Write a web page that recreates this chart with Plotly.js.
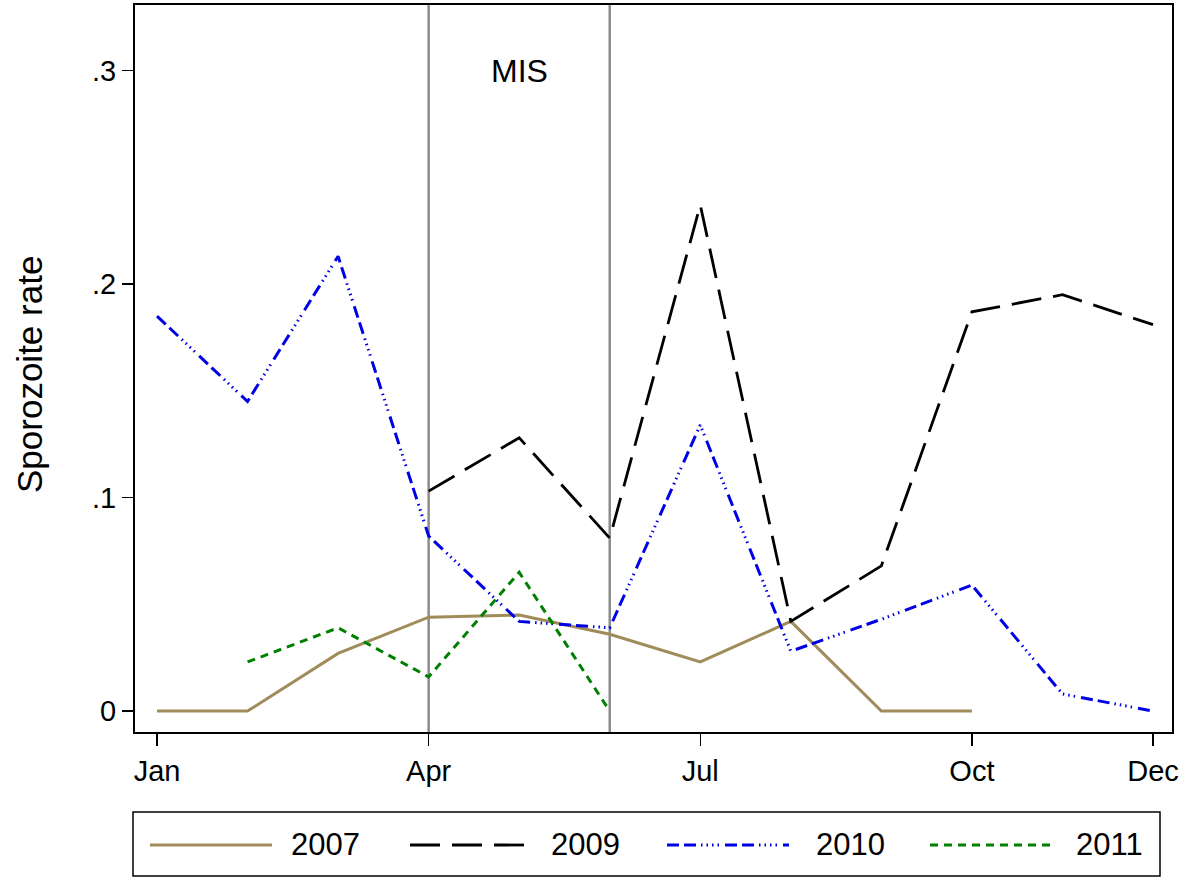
<!DOCTYPE html>
<html>
<head>
<meta charset="utf-8">
<script src="https://cdn.plot.ly/plotly-3.0.1.min.js"></script>
<style>
  html, body { margin: 0; padding: 0; background: #fff; }
  #chart { width: 1200px; height: 887px; }
</style>
</head>
<body>
<div id="chart"></div>
<script>
// ---- data ----
const months = [1, 2, 3, 4, 5, 6, 7, 8, 9, 10, 11, 12];
const tickMonths = [1, 4, 7, 10, 12];
const tickMonthLabels = ["Jan", "Apr", "Jul", "Oct", "Dec"];
const yTickVals = [0, 0.1, 0.2, 0.3];
const yTickLabels = ["0", ".1", ".2", ".3"];

const x2007 = [1, 2, 3, 4, 5, 6, 7, 8, 9, 10];
const y2007 = [0, 0, 0.027, 0.044, 0.045, 0.036, 0.023, 0.042, 0, 0];

const x2009 = [4, 5, 6, 7, 8, 9, 10, 11, 12];
const y2009 = [0.103, 0.128, 0.081, 0.237, 0.042, 0.068, 0.187, 0.195, 0.181];

const x2010 = months;
const y2010 = [0.185, 0.145, 0.213, 0.082, 0.042, 0.039, 0.134, 0.028, 0.043, 0.059, 0.008, 0];

const x2011 = [2, 3, 4, 5, 6];
const y2011 = [0.023, 0.039, 0.016, 0.065, 0];

const misBounds = [4, 6];
const misLabel = "MIS";
const seriesNames = ["2007", "2009", "2010", "2011"];

// ---- styles ----
const colors = ["#A08C5A", "#000000", "#0000E6", "#008000"];
const dashes = [
  "solid",
  "30px,12px",
  "12px,5px,12px,5px,1.5px,4px,1.5px,4px,1.5px,4px,1.5px,6px",
  "8px,6px"
];
const widths = [3, 2.8, 3, 3];
const FONT = "Liberation Sans, Arial, Helvetica, sans-serif";

const xs = [x2007, x2009, x2010, x2011];
const ys = [y2007, y2009, y2010, y2011];

const traces = seriesNames.map((n, i) => ({
  type: "scatter", mode: "lines", name: n,
  x: xs[i], y: ys[i],
  line: { color: colors[i], dash: dashes[i], width: widths[i] },
  showlegend: false, hoverinfo: "skip"
}));

// geometry helpers for paper coords
const L = 135, R = 1172, T = 5, B = 732;
const W = R - L, H = B - T;
const px = p => (p - L) / W;
const py = p => (B - p) / H;

const shapes = [];
misBounds.forEach(m => shapes.push({
  type: "line", xref: "x", yref: "paper", x0: m, x1: m, y0: 0, y1: 1,
  line: { color: "#8C8C8C", width: 2.5 }, layer: "below"
}));
// legend box
shapes.push({
  type: "rect", xref: "paper", yref: "paper",
  x0: px(133), x1: px(1160), y0: py(876), y1: py(812),
  line: { color: "#000", width: 1.5 }, fillcolor: "rgba(0,0,0,0)"
});
const sampleStarts = [150, 410, 667, 930];
const textStarts = [289, 549, 814, 1074];
const annotations = [];
seriesNames.forEach((n, i) => {
  shapes.push({
    type: "line", xref: "paper", yref: "paper",
    x0: px(sampleStarts[i]), x1: px(sampleStarts[i] + 122),
    y0: py(845), y1: py(845),
    line: { color: colors[i], dash: dashes[i], width: widths[i] }
  });
  annotations.push({
    xref: "paper", yref: "paper", x: px(textStarts[i]), y: py(845),
    xanchor: "left", yanchor: "middle", showarrow: false, text: n,
    font: { family: FONT, size: 31, color: "#000" }
  });
});
annotations.push({
  xref: "x", yref: "y", x: (misBounds[0] + misBounds[1]) / 2, y: 0.3,
  text: misLabel, showarrow: false, xanchor: "center", yanchor: "middle",
  font: { family: FONT, size: 32, color: "#000" }
});
annotations.push({
  xref: "paper", yref: "paper", x: px(30), y: py(375),
  text: "Sporozoite rate", textangle: -90, showarrow: false,
  xanchor: "center", yanchor: "middle",
  font: { family: FONT, size: 35, color: "#000" }
});

const layout = {
  width: 1200, height: 887,
  margin: { l: L, r: 1200 - R, t: T, b: 887 - B, pad: 0 },
  paper_bgcolor: "#fff", plot_bgcolor: "#fff",
  showlegend: false,
  font: { family: FONT, color: "#000" },
  xaxis: {
    range: [1 - 22 / 90.55, 12 + 19 / 90.55],
    tickvals: tickMonths, ticktext: tickMonthLabels,
    ticks: "outside", ticklen: 12, tickwidth: 1.5, tickcolor: "#000",
    showline: true, linecolor: "#000", linewidth: 2, mirror: true,
    showgrid: false, zeroline: false,
    tickfont: { family: FONT, size: 29, color: "#000" },
    automargin: false
  },
  yaxis: {
    range: [-0.0098, 0.3307],
    tickvals: yTickVals, ticktext: yTickLabels,
    ticks: "outside", ticklen: 11, tickwidth: 1.5, tickcolor: "#000",
    showline: true, linecolor: "#000", linewidth: 2, mirror: true,
    showgrid: false, zeroline: false,
    tickfont: { family: FONT, size: 29, color: "#000" },
    automargin: false
  },
  shapes: shapes,
  annotations: annotations
};

Plotly.newPlot("chart", traces, layout, { staticPlot: true, displayModeBar: false });
</script>
</body>
</html>
